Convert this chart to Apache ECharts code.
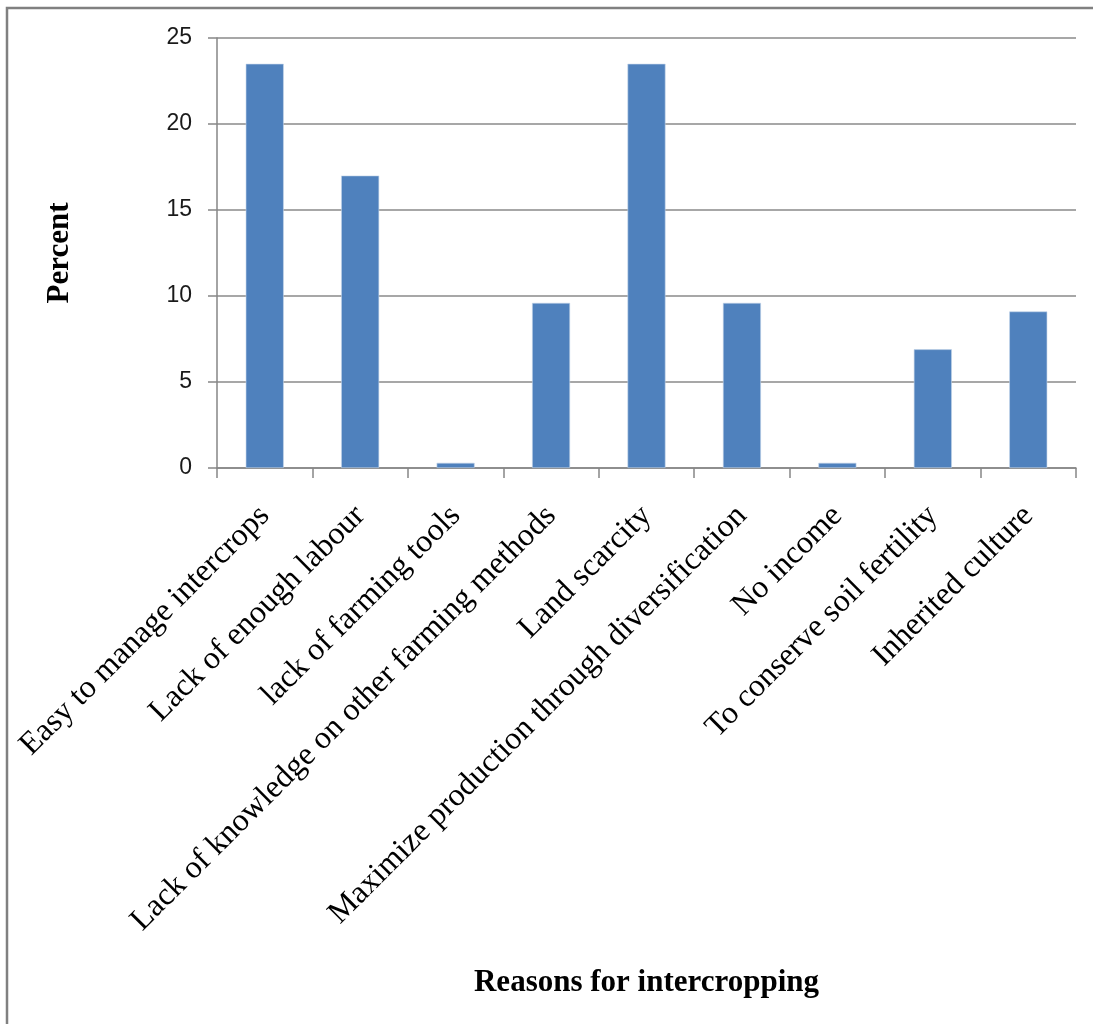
<!DOCTYPE html>
<html>
<head>
<meta charset="utf-8">
<script src="https://cdn.jsdelivr.net/npm/echarts@6/dist/echarts.min.js"></script>
<style>
html,body{margin:0;padding:0;background:#fff;}
#chart{width:1093px;height:1024px;}
</style>
</head>
<body>
<div id="chart"></div>
<script>
const categories = [
  "Easy to manage intercrops",
  "Lack of enough labour",
  "lack of farming tools",
  "Lack of knowledge on other farming methods",
  "Land scarcity",
  "Maximize production through diversification",
  "No income",
  "To conserve soil fertility",
  "Inherited culture"
];
const percentValues = [23.5, 17, 0.3, 9.6, 23.5, 9.6, 0.3, 6.9, 9.1];
const yTicks = { min: 0, max: 25, interval: 5 };
const xTitle = "Reasons for intercropping";
const yTitle = "Percent";

const chart = echarts.init(document.getElementById('chart'), null, {renderer: 'canvas'});
chart.setOption({
  animation: false,
  backgroundColor: '#fff',
  graphic: [{
    type: 'rect',
    shape: {x: 7, y: 8, width: 1200, height: 1100},
    style: {fill: 'none', stroke: '#808080', lineWidth: 2.5},
    silent: true
  }],
  grid: {left: 217, right: 17, top: 38, bottom: 556, containLabel: false},
  xAxis: {
    type: 'category',
    data: categories,
    name: xTitle,
    nameLocation: 'middle',
    nameGap: 499,
    nameTextStyle: {fontFamily: 'Liberation Serif', fontWeight: 'bold', fontSize: 31, color: '#000'},
    axisLine: {lineStyle: {color: '#868686', width: 1.5}},
    axisTick: {show: true, length: 10, lineStyle: {color: '#868686', width: 1.5}},
    axisLabel: {
      rotate: 45,
      interval: 0,
      margin: 43,
      fontFamily: 'Liberation Serif',
      fontSize: 32,
      color: '#000'
    }
  },
  yAxis: {
    type: 'value',
    min: yTicks.min,
    max: yTicks.max,
    interval: yTicks.interval,
    name: yTitle,
    nameLocation: 'middle',
    nameGap: 142,
    nameRotate: 90,
    nameTextStyle: {fontFamily: 'Liberation Serif', fontWeight: 'bold', fontSize: 31, color: '#000'},
    axisLine: {show: true, lineStyle: {color: '#868686', width: 1.5}},
    axisTick: {show: true, length: 9, lineStyle: {color: '#868686', width: 1.5}},
    axisLabel: {margin: 25, fontFamily: 'Liberation Sans', fontSize: 23, color: '#1a1a1a'},
    splitLine: {show: true, lineStyle: {color: '#8a8a8a', width: 1.5}}
  },
  series: [{
    type: 'bar',
    data: percentValues,
    barWidth: 38,
    itemStyle: {color: '#4F81BD', borderColor: '#c5d5ea', borderWidth: 0.6}
  }]
});
</script>
</body>
</html>
